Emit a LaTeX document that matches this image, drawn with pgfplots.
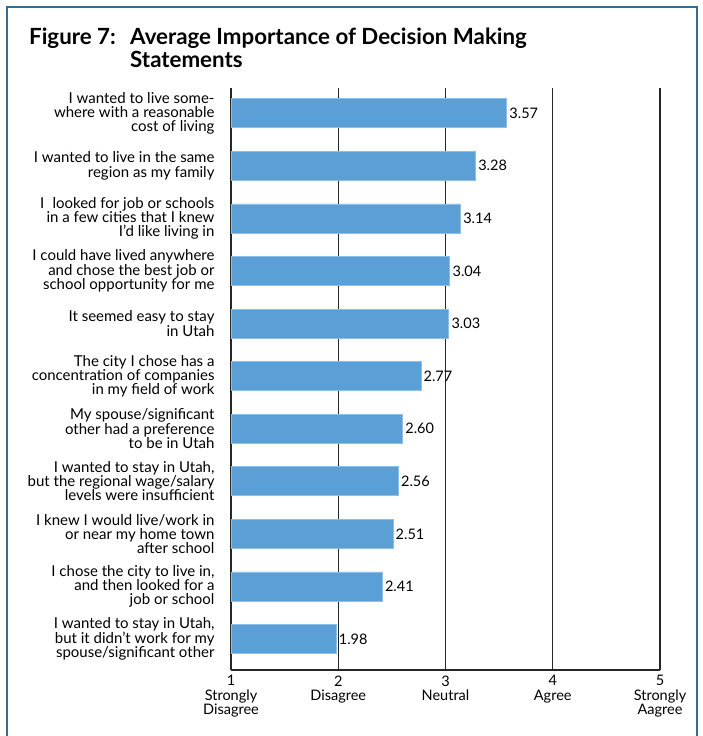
\documentclass[border=0pt]{standalone}
\usepackage{pgfplots}
\pgfplotsset{compat=1.18}
\usepackage{fontspec}
\setmainfont{Lato}
\definecolor{barblue}{HTML}{5A9FD6}
\definecolor{baredge}{HTML}{8CC0EA}
\definecolor{framec}{HTML}{3A6A8C}
\begin{document}
\begin{tikzpicture}
\path[use as bounding box] (0pt,0pt) rectangle (703pt,736pt);
\fill[white] (0pt,0pt) rectangle (703pt,736pt);
\draw[framec, line width=1.3pt] (7pt,-10pt) -- (7pt,729pt) -- (697pt,729pt) -- (697pt,-10pt);
\node[anchor=base west, inner sep=0, font=\fontsize{22.3}{24}\selectfont\bfseries] at (29pt,691pt) {Figure 7:};
\node[anchor=base west, inner sep=0, font=\fontsize{22.3}{24}\selectfont\bfseries] at (130pt,691pt) {Average Importance of Decision Making};
\node[anchor=base west, inner sep=0, font=\fontsize{22.3}{24}\selectfont\bfseries] at (130pt,668pt) {Statements};
\begin{axis}[
  at={(231pt,66pt)}, anchor=south west,
  scale only axis, width=429pt, height=582pt,
  xbar, bar width=0.55,
  xmin=1, xmax=5, ymin=-0.59, ymax=10.48,
  axis x line*=bottom, axis y line*=left,
  axis line style={-, line width=1.1pt, black!85},
  xmajorgrids, grid style={black!85, line width=1.1pt},
  major tick length=0pt,
  xtick={1,2,3,4,5},
  xticklabels={{1\\Strongly\\Disagree},{2\\Disagree},{3\\Neutral},{4\\Agree},{5\\Strongly\\Aagree}},
  xticklabel style={align=center, font=\fontsize{14.5}{14.5}\selectfont, yshift=-2pt},
  ytick={0,...,10},
  yticklabels={
    {I wanted to stay in Utah,\\but it didn't work for my\\spouse/significant other},
    {I chose the city to live in,\\and then looked for a\\job or school},
    {I knew I would live/work in\\or near my home town\\after school},
    {I wanted to stay in Utah,\\but the regional wage/salary\\levels were insufficient},
    {My spouse/significant\\other had a preference\\to be in Utah},
    {The city I chose has a\\concentration of companies\\in my field of work},
    {It seemed easy to stay\\in Utah},
    {I could have lived anywhere\\and chose the best job or\\school opportunity for me},
    {I\hspace{0.55em}looked for job or schools\\in a few cities that I knew\\I'd like living in},
    {I wanted to live in the same\\region as my family},
    {I wanted to live some-\\where with a reasonable\\cost of living}},
  yticklabel style={align=right, font=\fontsize{15}{14.2}\selectfont, xshift=-13pt},
  nodes near coords,
  point meta=x,
  nodes near coords style={font=\fontsize{14.5}{14.5}\selectfont, anchor=west, black, inner sep=2.5pt,
    /pgf/number format/fixed, /pgf/number format/fixed zerofill, /pgf/number format/precision=2,
    /pgf/number format/assume math mode=true},
]
\addplot[fill=barblue, draw=baredge, line width=0.6pt] coordinates {
  (1.98,0) (2.41,1) (2.51,2) (2.56,3) (2.60,4) (2.77,5) (3.03,6) (3.04,7) (3.14,8) (3.28,9) (3.57,10)
};
\end{axis}
\end{tikzpicture}
\end{document}
